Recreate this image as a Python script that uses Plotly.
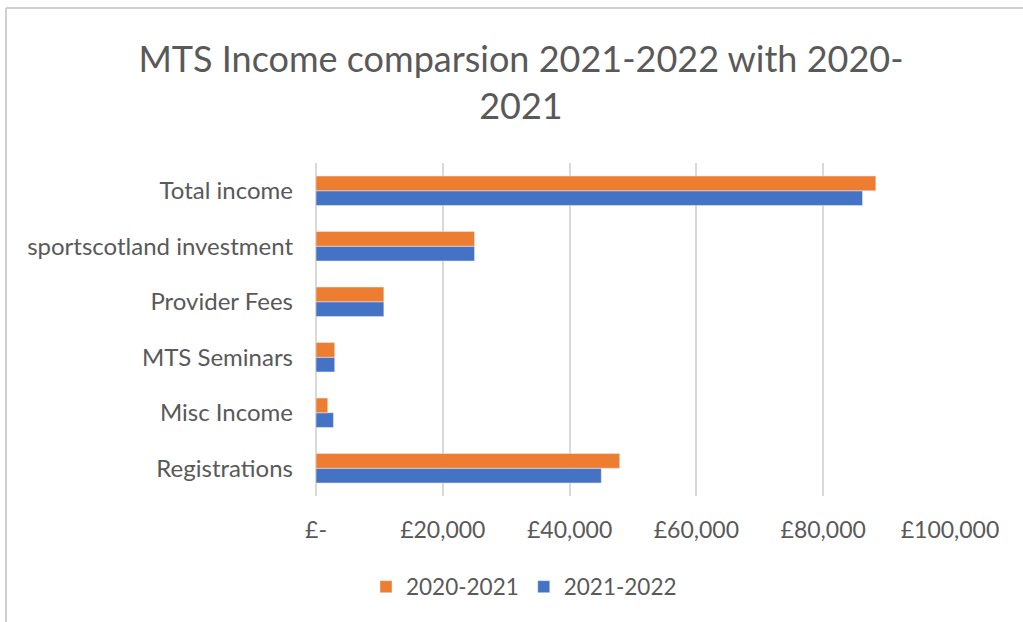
import plotly.graph_objects as go

categories = ["Registrations", "Misc Income", "MTS Seminars", "Provider Fees",
              "sportscotland investment", "Total income"]
values_2020_21 = [47900, 1850, 2950, 10700, 25000, 88300]
values_2021_22 = [45000, 2750, 2950, 10700, 25000, 86200]
series_names = ["2020-2021", "2021-2022"]
tick_values = [0, 20000, 40000, 60000, 80000, 100000]
tick_labels = ["£-", "£20,000", "£40,000", "£60,000", "£80,000", "£100,000"]

ORANGE = "#ED7D31"
BLUE = "#4472C4"
TEXT = "#595959"
FONT = "Lato, 'Open Sans', sans-serif"

fig = go.Figure()
fig.add_trace(go.Bar(y=categories, x=values_2021_22, name=series_names[1],
                     orientation="h", marker_color=BLUE))
fig.add_trace(go.Bar(y=categories, x=values_2020_21, name=series_names[0],
                     orientation="h", marker_color=ORANGE))

W, H = 1023, 622
L, R, T, B = 316, 73, 163, 126
pw, ph = W - L - R, H - T - B

def px(x):
    return (x - L) / pw

def py(y):
    return (H - B - y) / ph

fig.update_layout(
    width=W, height=H,
    margin=dict(l=L, r=R, t=T, b=B, autoexpand=False),
    paper_bgcolor="white", plot_bgcolor="white",
    barmode="group", bargap=0.47, bargroupgap=0,
    font=dict(family=FONT, color=TEXT, size=20),
    title=dict(text="MTS Income comparsion 2021-2022 with 2020-<br>2021",
               x=521 / W, xanchor="center", y=1 - 72 / H, yanchor="top",
               font=dict(size=36, color=TEXT, family=FONT)),
    xaxis=dict(range=[0, 100000], tickvals=tick_values, ticktext=tick_labels,
               showgrid=True, gridcolor="#D9D9D9", gridwidth=2,
               zeroline=True, zerolinecolor="#D9D9D9", zerolinewidth=2,
               showline=False, ticks="",
               ticklabelstandoff=18, tickfont=dict(size=23, color=TEXT)),
    yaxis=dict(categoryorder="array", categoryarray=categories,
               showgrid=False, zeroline=False, showline=False, ticks="",
               ticklabelstandoff=22, tickfont=dict(size=24, color=TEXT)),
    legend=dict(orientation="h", traceorder="reversed",
                x=px(366), xanchor="left", y=py(587), yanchor="middle",
                font=dict(size=22.5, color=TEXT), itemwidth=30),
    showlegend=True,
    shapes=[
        dict(type="line", xref="paper", yref="paper",
             x0=px(6), x1=px(1030), y0=py(8), y1=py(8),
             line=dict(color="#D0D0D0", width=2)),
        dict(type="line", xref="paper", yref="paper",
             x0=px(6), x1=px(6), y0=py(8), y1=py(630),
             line=dict(color="#D0D0D0", width=2)),
    ],
)

fig.write_html("out.html")
